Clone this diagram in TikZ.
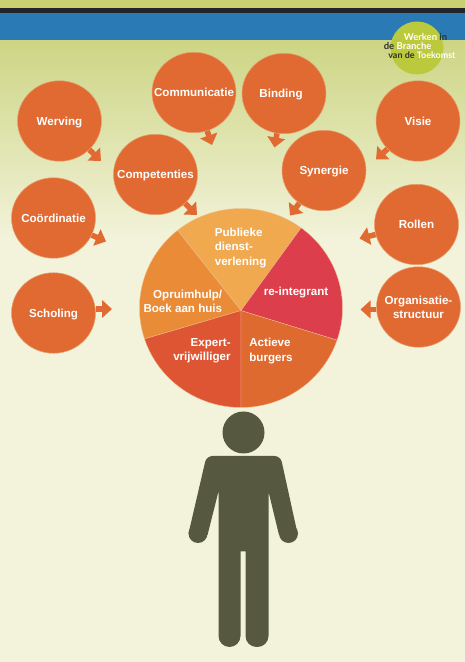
\documentclass[tikz,border=0pt]{standalone}
\usepackage{xcolor}
\usepackage{fontspec}
\setmainfont{Liberation Sans}
\newfontfamily\logofont{Lato}
\usepackage{tikz}
\usetikzlibrary{arrows.meta,shapes.geometric}
\definecolor{pagebase}{HTML}{F2F3DA}
\definecolor{gradtop}{HTML}{CDD584}
\definecolor{stripgreen}{HTML}{C8D072}
\definecolor{stripdark}{HTML}{22262A}
\definecolor{bandblue}{HTML}{2A7BB5}
\definecolor{logogreen}{HTML}{BBC93C}
\definecolor{logodark}{HTML}{2E3324}
\definecolor{bubbleorange}{HTML}{E06A32}
\definecolor{bubbleedge}{HTML}{E9A070}
\definecolor{persongrey}{HTML}{575840}
\definecolor{piepublic}{HTML}{F0A94F}
\definecolor{piehelp}{HTML}{E98B37}
\definecolor{pieexpert}{HTML}{DE5533}
\definecolor{pieactive}{HTML}{DF6A30}
\definecolor{piered}{HTML}{DC3F4B}
\definecolor{pieedge}{HTML}{F0C090}

\begin{document}
\begin{tikzpicture}[
    font=\fontsize{6.6}{8}\selectfont\bfseries,
    bubble/.style={ellipse,fill=bubbleorange,draw=bubbleedge,line width=0.3pt,
      minimum width=16.8mm,minimum height=16.1mm,inner xsep=-3.5mm,inner ysep=-1mm,
      text=white,align=center},
    word/.style={text height=1.7mm,text depth=0pt},
    flow/.style={draw=bubbleorange,line width=1.1mm,
      -{Triangle[length=2mm,width=3.5mm]}},
    pielabel/.style={text=white,inner sep=0pt},
    logoline/.style={anchor=west,inner sep=0pt,text=white,
      font=\logofont\fontsize{5.4}{6}\selectfont\bfseries},
  ]
    \useasboundingbox (0,0) rectangle (9.3,13.24);
    \fill[pagebase] (0,0) rectangle (9.3,13.24);
    \shade[top color=gradtop,bottom color=pagebase] (0,8.44) rectangle (9.3,12.44);
    \fill[stripgreen] (0,13.08) rectangle (9.3,13.24);
    \fill[stripdark] (0,12.98) rectangle (9.3,13.08);
    \fill[bandblue] (0,12.44) rectangle (9.3,12.98);

    % logo
    \node[circle,fill=logogreen,minimum size=10.6mm,inner sep=0pt] (logo) at (8.34,12.28) {};
    \node[logoline] (logoa) at (8.07,12.49) {Werken \textcolor{logodark}{in}};
    \node[logoline] (logob) at (7.67,12.32) {\textcolor{logodark}{de} Branche};
    \node[logoline,font=\logofont\fontsize{5.1}{6}\selectfont\bfseries] (logoc) at (7.76,12.14)
      {\textcolor{logodark}{van de} Toekomst};

    % wheel
    \coordinate (pie) at (4.82,7.03);
    \coordinate (wheel) at (4.82,7.08);
    \foreach \from/\to/\col in {53.7/128.7/piepublic,128.7/198.1/piehelp,198.1/270/pieexpert,
        270/341.2/pieactive,341.2/413.7/piered} {
      \filldraw[fill=\col,draw=pieedge,line width=0.2pt] (pie)
        -- ([shift={(wheel)}]\from:2.03 and 1.99)
        arc[start angle=\from,end angle=\to,x radius=2.03,y radius=1.99] -- cycle;
    }
    \node[pielabel,anchor=west,align=left] (publiek) at (4.29,8.28) {Publieke\\dienst-\\verlening};
    \node[pielabel] (reintegrant) at (5.92,7.38) {re-integrant};
    \node[pielabel,anchor=east,align=right] (opruim) at (4.45,7.22) {Opruimhulp/\\Boek aan huis};
    \node[pielabel,anchor=east,align=right] (expert) at (4.62,6.22) {Expert-\\vrijwilliger};
    \node[pielabel,anchor=west,align=left] (actief) at (4.98,6.22) {Actieve\\burgers};

    % bubbles
    \node[bubble,word] (werving) at (1.19,10.82) {Werving};
    \node[bubble,word] (communicatie) at (3.88,11.39) {Communicatie};
    \node[bubble,word] (competenties) at (3.11,9.75) {Competenties};
    \node[bubble,word] (binding) at (5.68,11.37) {Binding\hspace{1.2mm}};
    \node[bubble,word] (visie) at (8.36,10.82) {Visie};
    \node[bubble,word] (synergie) at (6.48,9.83) {Synergie};
    \node[bubble,word] (coordinatie) at (1.07,8.88) {Coördinatie};
    \node[bubble,word] (rollen) at (8.33,8.75) {Rollen};
    \node[bubble] (organisatie) at (8.37,7.10) {Organisatie-\\structuur};
    \node[bubble,word] (scholing) at (1.07,6.98) {Scholing};

    \coordinate (wervingtip) at (2.02,10.02);
    \coordinate (communicatietip) at (4.24,10.34);
    \coordinate (competentiestip) at (3.94,8.94);
    \coordinate (bindingtip) at (5.49,10.29);
    \coordinate (visietip) at (7.52,10.05);
    \coordinate (synergietip) at (5.80,8.93);
    \coordinate (coordinatietip) at (2.12,8.41);
    \coordinate (rollentip) at (7.19,8.47);
    \coordinate (organisatietip) at (7.21,7.05);
    \coordinate (scholingtip) at (2.24,7.06);
    \foreach \name in {werving,communicatie,competenties,binding,visie,synergie,
        coordinatie,rollen} {
      \draw[flow] (\name) -- (\name tip);
    }
    \draw[flow] (organisatie.west |- organisatietip) -- (organisatietip);
    \draw[flow] (scholing.east |- scholingtip) -- (scholingtip);

    % person
    \fill[persongrey] (4.87,4.59) circle (0.42);
    \fill[persongrey] (3.96,2.57) circle (0.19);
    \fill[persongrey] (5.77,2.57) circle (0.19);
    \fill[persongrey] [rounded corners=0.12cm] (4.13,4.12) -- (5.61,4.12)
      [sharp corners] -- (5.95,2.57) -- (5.58,2.54) -- (5.37,3.41)
      [rounded corners=0.22cm] -- (5.37,0.30) -- (4.91,0.30)
      [sharp corners] -- (4.91,2.21) -- (4.81,2.21)
      [rounded corners=0.22cm] -- (4.81,0.30) -- (4.37,0.30)
      [sharp corners] -- (4.37,3.41) -- (4.15,2.54) -- (3.77,2.57)
      [rounded corners=0.12cm] -- cycle;
\end{tikzpicture}
\end{document}
